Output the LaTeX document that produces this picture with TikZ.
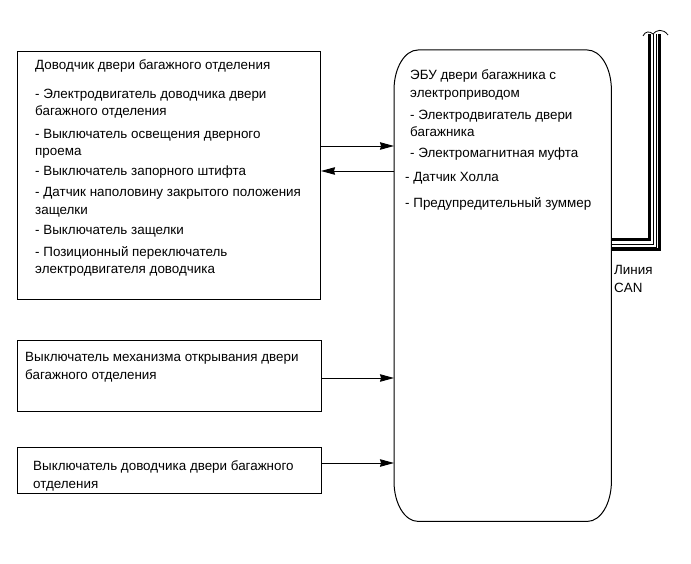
\documentclass[tikz,border=0pt]{standalone}
\usepackage{fontspec}
\setmainfont{Liberation Sans}
\usetikzlibrary{arrows.meta,calc}

\begin{document}
\begin{tikzpicture}[x=1pt,y=-1pt,>={Stealth[length=14pt,width=7.5pt,inset=1pt]},
	box/.style={draw,line width=1pt,anchor=north west,inner sep=0pt},
	txt/.style={anchor=north west,align=left,inner sep=0pt,font=\fontsize{13.4}{17.5}\selectfont},
	wire/.style={line width=0.9pt}]
	\useasboundingbox (0,0) rectangle (691,564);
	% blocks on the left
	\node[box,minimum width=303,minimum height=248] (closer) at (17,51) {};
	\node[box,minimum width=304,minimum height=71] (opensw) at (17,340) {};
	\node[box,minimum width=304,minimum height=46] (closersw) at (17,447) {};
	\node[txt] (closertext) at (35,59.5) {Доводчик двери багажного отделения\\[11pt]
		- Электродвигатель доводчика двери\\багажного отделения\\[5pt]
		- Выключатель освещения дверного\\проема\\[2.5pt]
		- Выключатель запорного штифта\\[3.5pt]
		- Датчик наполовину закрытого положения\\защелки\\[2.5pt]
		- Выключатель защелки\\[4.5pt]
		- Позиционный переключатель\\электродвигателя доводчика};
	\node[txt] (opentext) at (25,352.5) {Выключатель механизма открывания двери\\багажного отделения};
	\node[txt] (closerswtext) at (33,460.5) {Выключатель доводчика двери багажного\\отделения};
	% ECU
	\node[inner sep=0pt,anchor=north west,minimum width=217,minimum height=471] (ecu) at (394,50) {};
	\draw[line width=1pt] ($(ecu.north west)+(24,0)$) -- ($(ecu.north east)+(-24,0)$)
		arc[start angle=90,end angle=0,x radius=24pt,y radius=40pt]
		-- ($(ecu.south east)+(0,-40)$)
		arc[start angle=0,end angle=-90,x radius=24pt,y radius=40pt]
		-- ($(ecu.south west)+(24,0)$)
		arc[start angle=270,end angle=180,x radius=24pt,y radius=40pt]
		-- ($(ecu.north west)+(0,40)$)
		arc[start angle=180,end angle=90,x radius=24pt,y radius=40pt] -- cycle;
	\node[txt] (ecutext) at (410,69.5) {ЭБУ двери багажника с\\электроприводом\\[4.5pt]
		- Электродвигатель двери\\багажника\\[3.5pt]
		- Электромагнитная муфта\\[6.5pt]
		\hspace*{-5pt}- Датчик Холла\\[8.5pt]
		\hspace*{-5pt}- Предупредительный зуммер};
	% signals
	\draw[->,wire] (closer.east |- 0,146) -- (ecu.west |- 0,146);
	\draw[->,wire] (ecu.west |- 0,171) -- (closer.east |- 0,171);
	\draw[->,wire] (opensw.east |- 0,378) -- (ecu.west |- 0,378);
	\draw[->,wire] (closersw.east |- 0,463) -- (ecu.west |- 0,463);
	% CAN line
	\coordinate (canA) at (649.5,34);
	\coordinate (canB) at (653.5,34);
	\coordinate (canC) at (656,34);
	\coordinate (canD) at (659.5,34);
	\draw[line width=3pt] (ecu.east |- 0,240) -| (canA);
	\draw[line width=0.7pt] (ecu.east |- 0,244.5) -| (canB);
	\draw[line width=0.7pt] (ecu.east |- 0,247) -| (canC);
	\draw[line width=3pt] (ecu.east |- 0,250) -| (canD);
	\draw[line width=0.8pt] (643,36) .. controls (645,31) and (650,31) .. (653,34)
		.. controls (656,30) and (663,28) .. (668,35);
	\node[txt] (canlabel) at (614,265.5) {Линия\\CAN};
\end{tikzpicture}
\end{document}
